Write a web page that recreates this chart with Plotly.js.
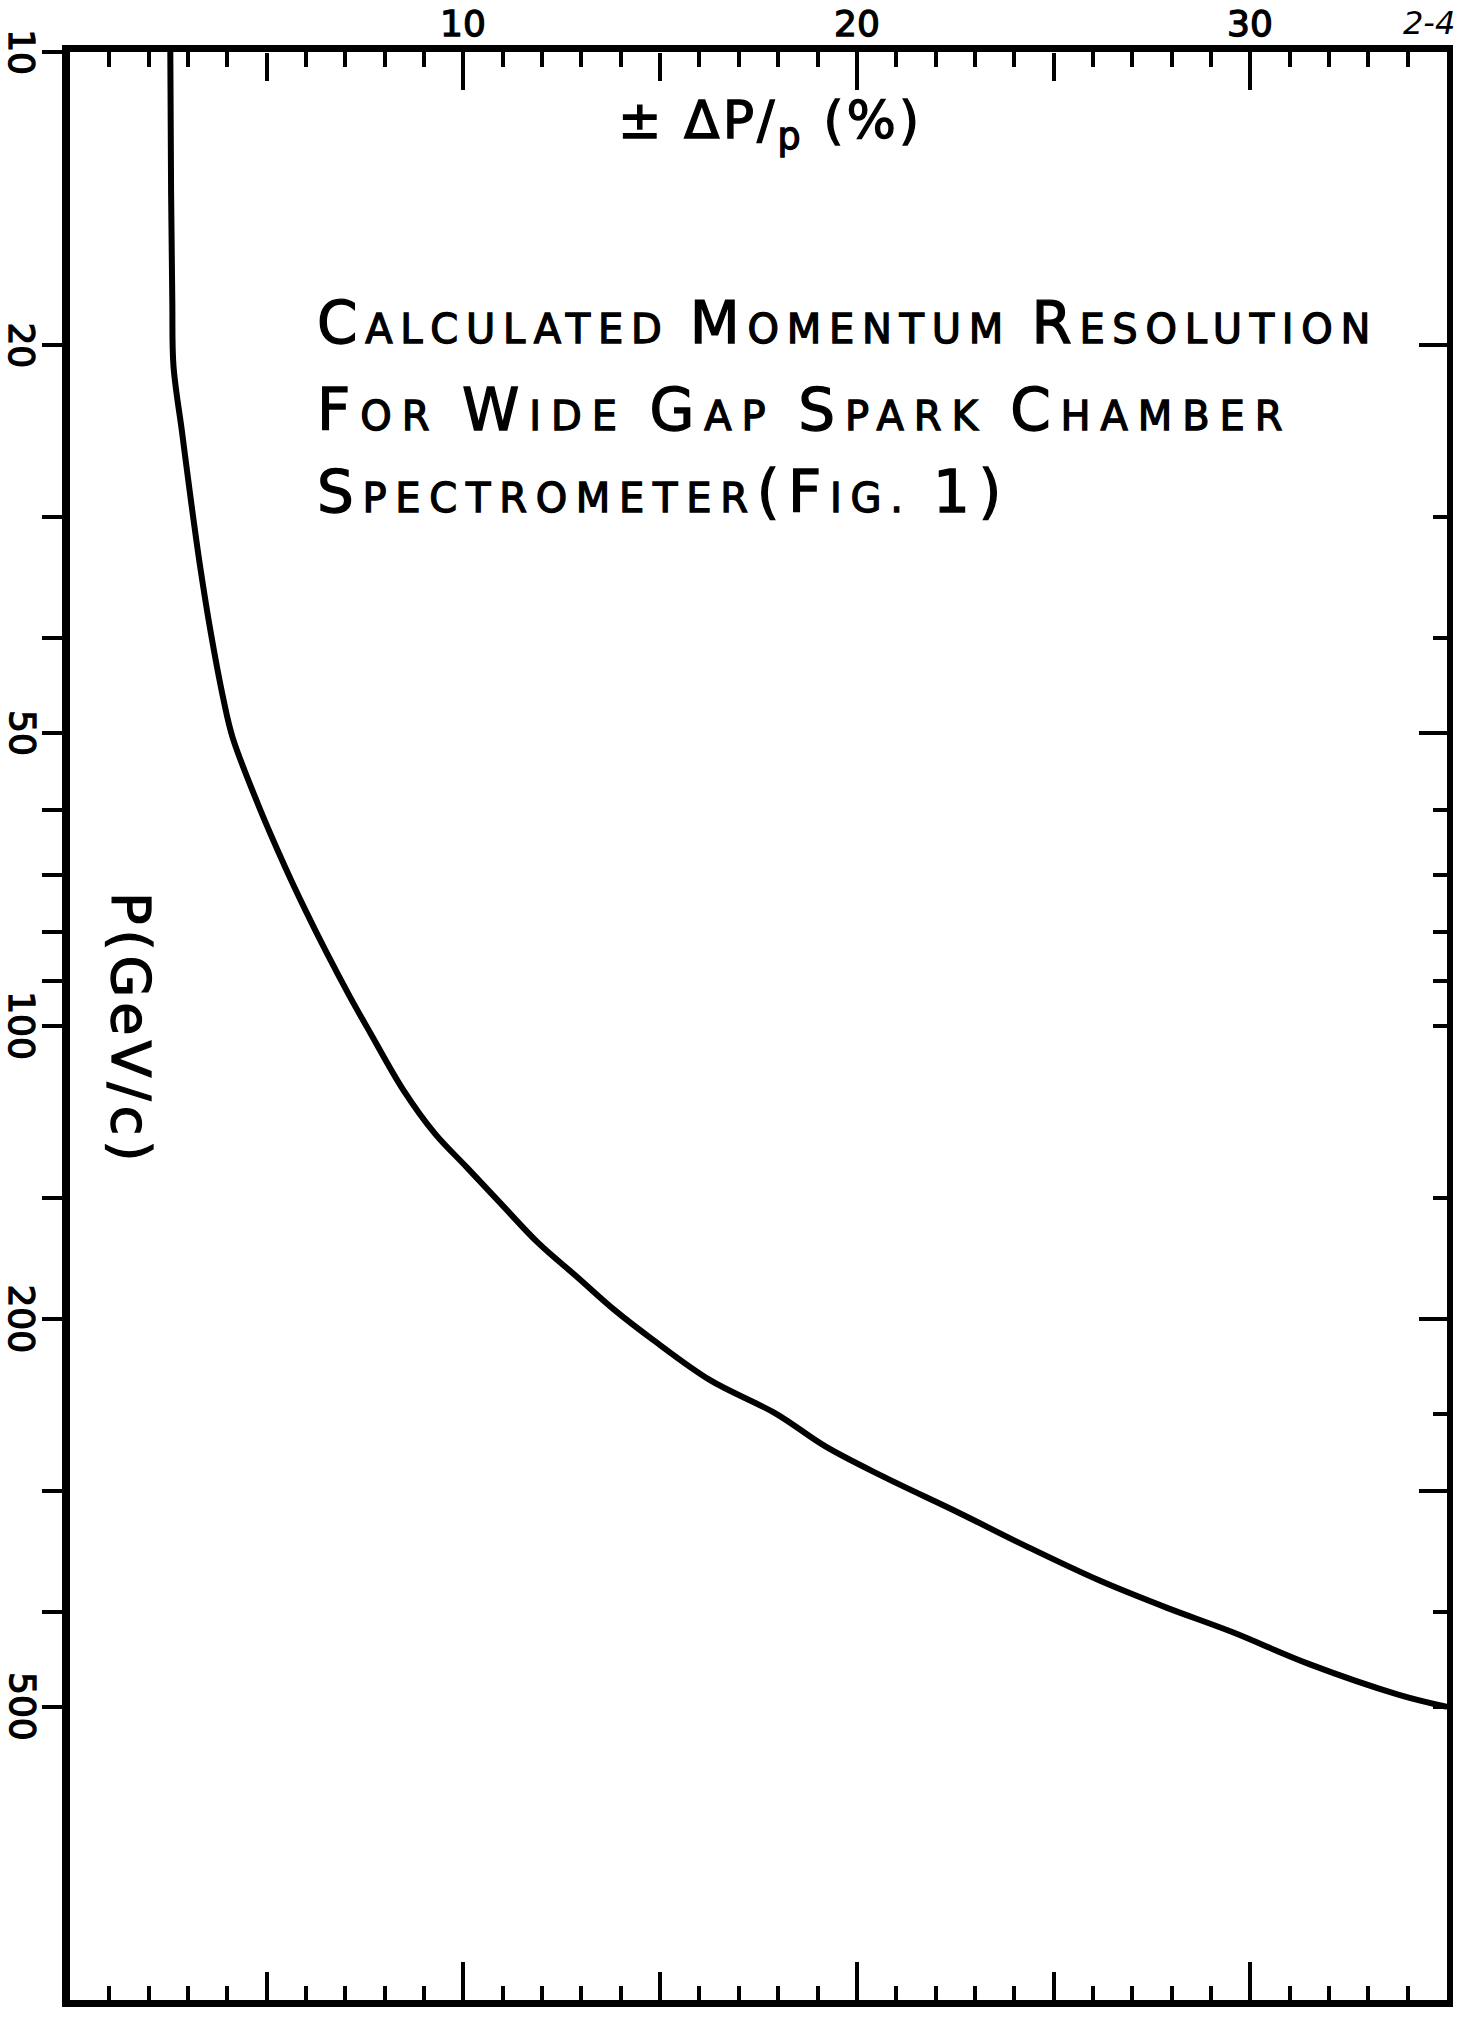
<!DOCTYPE html>
<html>
<head>
<meta charset="utf-8">
<script src="https://cdn.plot.ly/plotly-3.0.1.min.js"></script>
<style>
  html, body { margin: 0; padding: 0; background: #ffffff; }
  #chart { width: 1460px; height: 2017px; }
</style>
</head>
<body>
<div id="chart"></div>
<script>
// ---- data (± ΔP/p in %, P in GeV/c) ----
const dpPct = [2.55, 2.57, 2.6, 2.63, 2.85, 3.07, 3.31, 3.58, 3.9, 4.13, 4.8, 5.47, 5.98, 6.49, 7.12, 7.63,
               8.47, 9.27, 10.08, 10.94, 11.9, 12.89, 13.86, 14.82, 16.27, 17.94, 19.19, 20.66, 22.59,
               24.3, 26.17, 27.87, 29.54, 31.5, 33.78, 35.0];
const pGeV  = [10, 14, 18, 21, 24.6, 28.8, 33.8, 39.5, 46.2, 50.5, 59.5, 68.7, 76.0, 83.6, 93.4, 101.6,
               116.3, 128.9, 139.6, 152, 167, 181, 196, 210, 231, 250, 270, 290, 316,
               342, 371, 395.5, 419, 452, 486, 500];

// ---- tick labels ----
const leftTickVals  = [10, 20, 30, 40, 50, 60, 70, 80, 90, 100, 150, 200, 300, 400, 500];
const leftLabelVals = [10, 20, 50, 100, 200, 500];
const leftLabelText = ['10', '20', '50', '100', '200', '500'];
const rightMajorVals = [20, 50, 200, 300];
const rightMinorVals = [30, 40, 60, 70, 80, 90, 100, 150, 250, 400, 500];
const xLabelVals = [10, 20, 30];
const xLabelText = ['10', '20', '30'];
const xMidVals = [5, 15, 25];
const xMinorVals = [1,2,3,4,6,7,8,9,11,12,13,14,16,17,18,19,21,22,23,24,26,27,28,29,31,32,33,34];

const titleLines = ['CALCULATED MOMENTUM RESOLUTION', 'FOR WIDE GAP SPARK CHAMBER', 'SPECTROMETER(FIG. 1)'];
const xTitle = '± ΔP/<sub>p</sub> (%)';
const yTitle = 'P(GeV/c)';
const pageMark = '2-4';

const INK = 'stroke:#000;stroke-width:1.3px;';

// hand-lettered small caps: first letter of each word larger
function smallCaps(text, big, small, ls) {
  let out = '';
  let wordStart = true;
  for (const ch of text) {
    let isBig = false;
    if (ch === ' ') { wordStart = true; }
    else if (ch === '(') { isBig = true; wordStart = true; }
    else if (ch === ')' || /[0-9]/.test(ch)) { isBig = true; }
    else if (/[A-Z]/.test(ch) && wordStart) { isBig = true; wordStart = false; }
    const fs = isBig ? big : small;
    out += '<span style="' + INK + 'font-size:' + fs + 'px;letter-spacing:' + ls + 'px">' + (ch === ' ' ? '&nbsp;' : ch) + '</span>';
  }
  return out;
}

const BLACK = '#000000';
const FONT = 'DejaVu Sans, sans-serif';

const traces = [
  { x: dpPct, y: pGeV, xaxis: 'x', yaxis: 'y', type: 'scatter', mode: 'lines',
    line: { color: BLACK, width: 6, shape: 'spline', smoothing: 1.0 }, hoverinfo: 'skip', showlegend: false },
  { x: dpPct, y: pGeV, xaxis: 'x2', yaxis: 'y2', type: 'scatter', mode: 'lines',
    line: { color: 'rgba(0,0,0,0)', width: 0 }, hoverinfo: 'skip', showlegend: false },
  { x: dpPct, y: pGeV, xaxis: 'x3', yaxis: 'y2', type: 'scatter', mode: 'lines',
    line: { color: 'rgba(0,0,0,0)', width: 0 }, hoverinfo: 'skip', showlegend: false },
  { x: dpPct, y: pGeV, xaxis: 'x4', yaxis: 'y2', type: 'scatter', mode: 'lines',
    line: { color: 'rgba(0,0,0,0)', width: 0 }, hoverinfo: 'skip', showlegend: false }
];

const xRange = [0, 35];
const yRange = [3, 1]; // log10: 1000 at bottom, 10 at top

const annotations = [
  { xref: 'paper', yref: 'paper', x: 0.178, y: 0.861, xanchor: 'left', yanchor: 'middle', showarrow: false,
    text: smallCaps(titleLines[0], 58, 40, 7.7), font: { family: FONT, size: 40, color: BLACK } },
  { xref: 'paper', yref: 'paper', x: 0.178, y: 0.816, xanchor: 'left', yanchor: 'middle', showarrow: false,
    text: smallCaps(titleLines[1], 58, 40, 9.9), font: { family: FONT, size: 40, color: BLACK } },
  { xref: 'paper', yref: 'paper', x: 0.178, y: 0.774, xanchor: 'left', yanchor: 'middle', showarrow: false,
    text: smallCaps(titleLines[2], 58, 40, 8.7), font: { family: FONT, size: 40, color: BLACK } },
  { xref: 'paper', yref: 'paper', x: 0.508, y: 0.963, xanchor: 'center', yanchor: 'middle', showarrow: false,
    text: '<span style="' + INK + 'letter-spacing:3px">' + xTitle + '</span>', font: { family: FONT, size: 52, color: BLACK } },
  { xref: 'paper', yref: 'paper', x: 0.0436, y: 0.4985, xanchor: 'center', yanchor: 'middle', showarrow: false,
    textangle: 90, text: '<span style="' + INK + 'letter-spacing:5px">' + yTitle + '</span>', font: { family: FONT, size: 54, color: BLACK } },
  { xref: 'paper', yref: 'paper', x: 0.987, y: 1.0150, xanchor: 'center', yanchor: 'middle', showarrow: false,
    text: '<i>' + pageMark + '</i>', font: { family: FONT, size: 32, color: BLACK } }
];
// left-axis tick labels, rotated like the hand-written original
leftLabelVals.forEach((v, i) => {
  annotations.push({ xref: 'paper', yref: 'y', x: -0.035, y: Math.log10(v), xanchor: 'center', yanchor: 'middle',
    showarrow: false, textangle: 90,
    text: '<span style="' + INK + '">' + leftLabelText[i] + '</span>', font: { family: FONT, size: 36, color: BLACK } });
});
// top-axis tick labels
xLabelVals.forEach((v, i) => {
  annotations.push({ xref: 'x', yref: 'paper', x: v, y: 1.0145, xanchor: 'center', yanchor: 'middle',
    showarrow: false,
    text: '<span style="' + INK + '">' + xLabelText[i] + '</span>', font: { family: FONT, size: 36, color: BLACK } });
});

const layout = {
  width: 1460, height: 2017,
  margin: { l: 70, r: 13, t: 52, b: 17, pad: 0 },
  paper_bgcolor: '#ffffff', plot_bgcolor: '#ffffff',
  font: { family: FONT, color: BLACK, size: 34 },
  showlegend: false,
  xaxis: {
    range: xRange, side: 'bottom', showgrid: false, zeroline: false,
    showline: true, linecolor: BLACK, linewidth: 7,
    ticks: 'inside', tickmode: 'array', tickvals: xLabelVals, ticklen: 38, tickwidth: 4, tickcolor: BLACK,
    showticklabels: false,
    minor: { tickmode: 'array', tickvals: xMinorVals, ticks: 'inside', ticklen: 14, tickwidth: 4, tickcolor: BLACK, showgrid: false }
  },
  xaxis2: {
    range: xRange, side: 'top', overlaying: 'x', anchor: 'y2', showgrid: false, zeroline: false,
    showline: true, linecolor: BLACK, linewidth: 7,
    ticks: 'inside', tickmode: 'array', tickvals: xLabelVals, ticklen: 38, tickwidth: 4, tickcolor: BLACK,
    showticklabels: false,
    minor: { tickmode: 'array', tickvals: xMinorVals, ticks: 'inside', ticklen: 15, tickwidth: 4, tickcolor: BLACK, showgrid: false }
  },
  xaxis3: {
    range: xRange, side: 'bottom', overlaying: 'x', anchor: 'free', position: 0, showgrid: false, zeroline: false,
    showline: false, ticks: 'inside', tickmode: 'array', tickvals: xMidVals, ticklen: 28, tickwidth: 4, tickcolor: BLACK,
    showticklabels: false
  },
  xaxis4: {
    range: xRange, side: 'top', overlaying: 'x', anchor: 'free', position: 1, showgrid: false, zeroline: false,
    showline: false, ticks: 'inside', tickmode: 'array', tickvals: xMidVals, ticklen: 28, tickwidth: 4, tickcolor: BLACK,
    showticklabels: false
  },
  yaxis: {
    type: 'log', range: yRange, side: 'left', showgrid: false, zeroline: false,
    showline: true, linecolor: BLACK, linewidth: 8,
    ticks: 'outside', tickmode: 'array', tickvals: leftTickVals,
    ticklen: 20, tickwidth: 4, tickcolor: BLACK, showticklabels: false
  },
  yaxis2: {
    type: 'log', range: yRange, side: 'right', overlaying: 'y', anchor: 'x', showgrid: false, zeroline: false,
    showline: true, linecolor: BLACK, linewidth: 6,
    ticks: 'inside', tickmode: 'array', tickvals: rightMajorVals, ticklen: 28, tickwidth: 4, tickcolor: BLACK,
    showticklabels: false,
    minor: { tickmode: 'array', tickvals: rightMinorVals, ticks: 'inside', ticklen: 14, tickwidth: 4, tickcolor: BLACK, showgrid: false }
  },
  annotations: annotations
};

Plotly.newPlot('chart', traces, layout, { staticPlot: true, displayModeBar: false });
</script>
</body>
</html>
